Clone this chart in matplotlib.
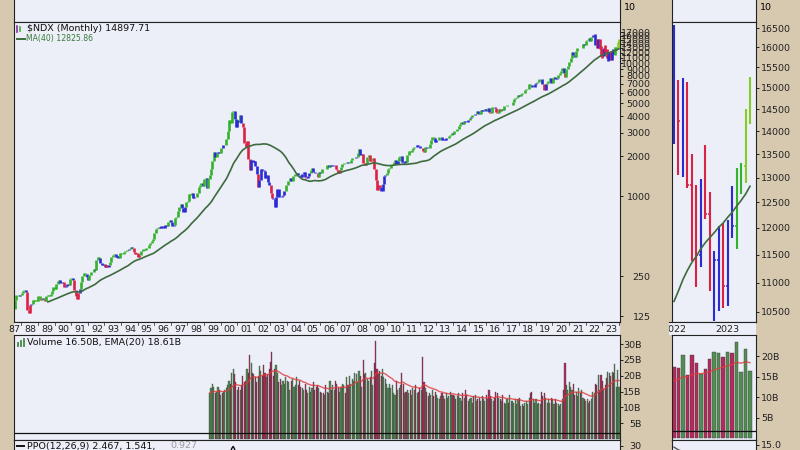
import numpy as np
import pandas as pd
import matplotlib
matplotlib.use("Agg")
import matplotlib.pyplot as plt
from matplotlib.lines import Line2D
from matplotlib.ticker import NullLocator

# $NDX monthly closes, Oct 1985 .. Jun 2023
closes = [
    118, 127, 132,
    134, 144, 150, 153, 158, 160, 143, 148, 136, 143, 143, 141,  # 1986
    165, 180, 180, 178, 180, 187, 192, 196, 190, 138, 132, 150,  # 1987
    155, 165, 163, 165, 163, 178, 172, 165, 170, 168, 162, 177,  # 1988
    180, 178, 182, 192, 205, 200, 218, 228, 232, 222, 225, 224,  # 1989
    206, 210, 218, 214, 238, 242, 232, 195, 178, 168, 185, 200,  # 1990
    225, 250, 262, 258, 245, 235, 255, 268, 270, 282, 278, 331,  # 1991
    345, 340, 315, 305, 310, 290, 300, 290, 300, 320, 350, 360,  # 1992
    365, 345, 355, 340, 370, 368, 365, 380, 385, 395, 390, 398,  # 1993
    410, 405, 378, 368, 372, 350, 362, 388, 385, 400, 392, 404,  # 1994
    405, 425, 440, 462, 478, 530, 565, 570, 580, 575, 590, 576,  # 1995
    570, 600, 590, 640, 665, 640, 590, 610, 680, 700, 765, 821,  # 1996
    875, 810, 760, 820, 900, 910, 1040, 1010, 1055, 960, 990, 990,  # 1997
    1060, 1170, 1220, 1250, 1180, 1340, 1360, 1140, 1345, 1450, 1600, 1836,  # 1998
    2130, 1950, 2100, 2150, 2120, 2300, 2280, 2400, 2410, 2700, 3100, 3708,  # 1999
    3570, 4270, 4400, 3770, 3320, 3760, 3610, 4080, 3570, 3280, 2505, 2342,  # 2000
    2590, 1910, 1570, 1855, 1800, 1830, 1680, 1470, 1170, 1330, 1600, 1577,  # 2001
    1550, 1360, 1450, 1280, 1200, 1050, 960, 950, 830, 990, 1120, 984,  # 2002
    980, 1000, 1020, 1100, 1200, 1200, 1300, 1360, 1300, 1420, 1420, 1468,  # 2003
    1490, 1450, 1440, 1390, 1470, 1520, 1400, 1370, 1410, 1480, 1580, 1621,  # 2004
    1510, 1500, 1480, 1400, 1510, 1490, 1610, 1590, 1600, 1590, 1700, 1645,  # 2005
    1720, 1680, 1700, 1700, 1590, 1575, 1490, 1560, 1660, 1745, 1760, 1757,  # 2006
    1790, 1760, 1770, 1870, 1920, 1930, 1930, 1960, 2090, 2240, 2050, 2085,  # 2007
    1760, 1720, 1780, 1950, 2030, 1840, 1870, 1920, 1600, 1330, 1110, 1212,  # 2008
    1175, 1100, 1230, 1410, 1440, 1480, 1610, 1630, 1720, 1720, 1790, 1860,  # 2009
    1740, 1820, 1950, 1990, 1810, 1760, 1840, 1790, 2040, 2170, 2150, 2218,  # 2010
    2300, 2350, 2340, 2410, 2390, 2300, 2300, 2190, 2140, 2320, 2290, 2278,  # 2011
    2460, 2640, 2760, 2730, 2530, 2620, 2640, 2800, 2800, 2660, 2680, 2661,  # 2012
    2730, 2740, 2820, 2890, 3000, 2910, 3090, 3070, 3220, 3380, 3500, 3592,  # 2013
    3500, 3690, 3600, 3590, 3740, 3850, 3900, 4080, 4050, 4150, 4340, 4236,  # 2014
    4160, 4460, 4330, 4420, 4510, 4400, 4590, 4270, 4180, 4650, 4670, 4593,  # 2015
    4280, 4200, 4480, 4340, 4520, 4420, 4730, 4770, 4880, 4800, 4810, 4864,  # 2016
    5080, 5330, 5440, 5580, 5790, 5650, 5880, 5990, 5980, 6250, 6340, 6396,  # 2017
    6950, 6900, 6580, 6610, 6970, 7040, 7230, 7630, 7630, 6970, 6950, 6330,  # 2018
    6910, 7100, 7380, 7780, 7130, 7670, 7850, 7660, 7750, 8080, 8400, 8733,  # 2019
    9150, 8460, 7810, 9000, 9560, 10160, 10900, 12110, 11420, 11050, 12270, 12888,  # 2020
    12930, 12910, 13090, 13860, 13690, 14550, 14960, 15580, 14690, 15850, 16140, 16320,  # 2021
    14930, 14240, 14840, 12850, 12640, 11500, 12950, 12270, 10970, 11400, 11950, 10940,  # 2022
    12100, 12040, 13180, 13250, 14250, 14898,  # 2023
]

# monthly volume in billions, Oct 1998 .. Jun 2023
volume = [
    14.5, 16.0, 17.5,
    16.5, 14.5, 15.0, 16.5, 15.5, 14.0, 14.5, 15.0, 15.5, 16.0, 17.0, 18.5,  # 1999
    17.5, 21.0, 22.0, 20.5, 18.0, 15.5, 16.5, 15.5, 17.0, 20.0, 18.0, 18.5,  # 2000
    22.0, 21.0, 26.5, 24.0, 21.0, 20.5, 19.5, 18.0, 20.0, 23.0, 21.5, 20.0,  # 2001
    23.5, 21.0, 19.5, 20.5, 22.0, 24.5, 27.5, 20.0, 22.0, 23.5, 21.0, 18.0,  # 2002
    19.0, 17.0, 18.5, 17.5, 19.5, 18.5, 18.0, 15.5, 18.5, 19.0, 16.5, 17.0,  # 2003
    19.5, 17.0, 18.5, 16.5, 16.0, 15.5, 17.5, 15.5, 14.5, 16.5, 15.0, 16.0,  # 2004
    18.0, 15.5, 16.5, 17.0, 16.0, 15.0, 14.5, 14.5, 14.0, 17.0, 15.0, 14.5,  # 2005
    18.5, 15.5, 17.0, 15.5, 18.5, 17.5, 16.0, 15.0, 16.5, 17.5, 17.0, 14.5,  # 2006
    19.5, 17.0, 20.0, 17.5, 19.0, 18.5, 21.0, 20.5, 18.0, 21.5, 20.0, 16.5,  # 2007
    25.0, 20.5, 21.0, 19.0, 18.5, 19.5, 21.5, 17.0, 24.0, 31.0, 22.0, 20.5,  # 2008
    21.5, 20.0, 22.0, 19.5, 19.0, 17.5, 16.0, 17.5, 16.0, 17.0, 14.5, 14.0,  # 2009
    18.5, 15.5, 16.0, 17.0, 21.0, 17.5, 14.5, 15.0, 15.5, 14.5, 15.5, 14.0,  # 2010
    16.0, 15.5, 17.0, 14.5, 15.0, 16.0, 15.5, 26.0, 18.0, 16.0, 15.0, 13.5,  # 2011
    14.5, 14.0, 15.5, 13.5, 15.0, 14.0, 13.0, 12.5, 13.5, 14.5, 13.5, 12.5,  # 2012
    14.5, 13.0, 13.5, 15.0, 14.0, 14.0, 13.5, 12.5, 13.5, 14.5, 13.0, 12.0,  # 2013
    14.5, 13.0, 15.5, 14.0, 12.0, 12.5, 13.0, 11.5, 13.5, 14.0, 12.0, 12.5,  # 2014
    13.0, 12.0, 13.5, 12.5, 12.0, 14.0, 12.5, 15.5, 13.5, 12.5, 12.0, 13.0,  # 2015
    15.0, 14.5, 13.0, 12.5, 12.0, 14.0, 11.5, 11.0, 12.5, 11.5, 14.0, 12.0,  # 2016
    12.0, 11.5, 12.5, 11.0, 12.5, 13.0, 10.5, 11.0, 10.5, 11.5, 12.0, 11.0,  # 2017
    13.0, 14.5, 15.0, 12.5, 11.5, 12.5, 11.0, 11.5, 11.0, 15.0, 13.5, 14.5,  # 2018
    13.0, 11.5, 12.5, 11.5, 13.0, 12.5, 11.0, 12.5, 11.5, 11.0, 10.5, 11.0,  # 2019
    12.5, 15.5, 24.0, 17.0, 15.5, 18.0, 16.5, 15.5, 17.5, 14.0, 15.0, 13.5,  # 2020
    16.0, 14.5, 15.5, 13.0, 12.5, 12.0, 12.5, 11.5, 12.0, 12.5, 15.0, 14.5,  # 2021
    17.5, 17.2, 20.4, 15.5, 20.4, 18.5, 15.7, 17.0, 19.4, 21.1, 20.8, 19.9,  # 2022
    21.1, 20.9, 23.6, 16.3, 21.8, 16.5,  # 2023
]

# zoom panel, Jan 2022 .. Jun 2023
zoom_high = [16570, 15190, 15240, 15140, 13510, 12850, 12970, 13700, 12700,
             11570, 12040, 12100, 12160, 12830, 13210, 13300, 14500, 15270]
zoom_low = [13720, 13050, 13010, 12790, 11380, 10930, 11270, 12180, 10860,
            10340, 10520, 10570, 10590, 11800, 11610, 12660, 12890, 14160]
zoom_state = ['b', 'r', 'b', 'r', 'r', 'r', 'b', 'r', 'r',
              'b', 'b', 'r', 'b', 'b', 'g', 'g', 'G', 'G']

main_ticks = [125, 250, 1000, 2000, 3000, 4000, 5000, 6000, 7000, 8000, 9000, 10000,
              11000, 12000, 13000, 14000, 15000, 16000, 17000]
zoom_ticks = list(range(10500, 17000, 500))
vol_ticks = [5, 10, 15, 20, 25, 30]
zvol_ticks = [5, 10, 15, 20]

TAN = '#d7c9b0'
BG = '#eceef8'
colmap = {'g': '#33b22b', 'G': '#86cc26', 'r': '#dc2244', 'b': '#2a2bd2'}
MA_COL = '#3d6b3d'
UPV = '#468546'
DNV = '#b01a4e'
FS = 6.8
NARROW = ['Liberation Sans Narrow', 'DejaVu Sans']
NFS = 6.8

s = pd.Series(closes, dtype=float)
n = len(s)
t = 1985 + (9 + np.arange(n)) / 12.0 + 1 / 24.0
ma40 = s.rolling(40).mean()
ema12 = s.ewm(span=12, adjust=False).mean()
ema26 = s.ewm(span=26, adjust=False).mean()
ema13 = s.ewm(span=13, adjust=False).mean()
macd = ema12 - ema26
hist = macd - macd.ewm(span=9, adjust=False).mean()
ppo = (ema12 - ema26) / ema26 * 100

# elder impulse colouring
de = ema13.diff().values
dh = hist.diff().values
state = np.where((de > 0) & (dh > 0), 'g', np.where((de < 0) & (dh < 0), 'r', 'b'))
state[-18:] = zoom_state

prev = s.shift(1).fillna(s.iloc[0]).values
lo = np.minimum(prev, s.values)
hi = np.maximum(prev, s.values)
lo[-18:] = zoom_low
hi[-18:] = zoom_high

v = pd.Series(volume, dtype=float)
nv = len(v)
tv = t[-nv:]
vup = s.values[-nv:] >= prev[-nv:]
vcol = [UPV if u else DNV for u in vup]
vema = v.ewm(span=20, adjust=False).mean()

W, H = 800, 450
fig = plt.figure(figsize=(8, 4.5), dpi=100, facecolor=TAN)
plt.rcParams['font.family'] = 'DejaVu Sans'


def box(x0, y0, x1, y1):
    a = fig.add_axes([x0 / W, 1 - y1 / H, (x1 - x0) / W, (y1 - y0) / H])
    a.set_facecolor(BG)
    for sp in a.spines.values():
        sp.set_color('#222222')
        sp.set_linewidth(0.8)
    a.xaxis.set_major_locator(NullLocator())
    a.yaxis.set_major_locator(NullLocator())
    return a


def pxline(x0, y0, x1, y1, c, lw):
    fig.add_artist(Line2D([x0 / W, x1 / W], [1 - y0 / H, 1 - y1 / H],
                          transform=fig.transFigure, color=c, lw=lw))


def pxtext(x, y, txt, size=FS, **kw):
    fig.text(x / W, 1 - y / H, txt, fontsize=size, va='center', **kw)


def right_axis(a, ticks, labels, pad, ha):
    a.yaxis.tick_right()
    a.yaxis.set_minor_locator(NullLocator())
    a.set_yticks(ticks)
    a.set_yticklabels(labels)
    a.tick_params(axis='y', length=2.5, width=0.7, pad=pad, labelsize=NFS, colors='#222222')
    for lab in a.get_yticklabels():
        lab.set_ha(ha)
        lab.set_family(NARROW)


# top strip (bottom of the panel above)
ax_top = box(14, -6, 620, 22)
ax_topr = box(672, -6, 756, 22)
pxtext(624, 7, "10", size=NFS, family=NARROW)
pxtext(760, 7, "10", size=NFS, family=NARROW)

# main price panel
ax = box(14, 22, 620, 322)
ax.set_yscale('log')
ax.set_xlim(1987.0, 2023.52)
ax.set_ylim(112.7, 20390)
ax.vlines(t, lo, hi, colors=[colmap[c] for c in state], lw=1.9)
ax.plot(t, ma40, color=MA_COL, lw=1.2)
right_axis(ax, main_ticks, [str(x) for x in main_ticks], 19.5, 'right')
ax.xaxis.set_major_locator(NullLocator())

# date strip
axd = box(14, 322, 620, 335)
axd.set_xlim(ax.get_xlim())
axd.set_ylim(0, 1)
for sp in ['left', 'right', 'bottom']:
    axd.spines[sp].set_visible(False)
for yr in range(1987, 2024):
    axd.text(yr, 0.45, "%02d" % (yr % 100), ha='center', va='center', fontsize=NFS,
             family=NARROW, color='#222222')
    axd.plot([yr + 0.45, yr + 0.45], [0.78, 1.0], color='#444444', lw=0.6)

# volume panel
axv = box(14, 335, 620, 440)
axv.set_xlim(ax.get_xlim())
axv.set_ylim(-0.32, 32.9)
axv.bar(tv, v, width=0.8 / 12, color=vcol, edgecolor='#3a3a3a', linewidth=0.25, alpha=0.92)
axv.plot(tv, vema, color='#e03a3a', lw=1.0, alpha=0.8)
axv.axhline(1.9, color='#111111', lw=0.9)
right_axis(axv, vol_ticks, ["%dB" % x for x in vol_ticks], 13, 'right')

# ppo panel (only its top edge is visible)
axp = box(14, 440, 620, 480)
axp.set_xlim(ax.get_xlim())
axp.set_ylim(30 - 34.5 * 0.5, 30 + 5.5 * 0.5)
axp.plot(t, ppo, color='#111111', lw=1.0)
right_axis(axp, [30], ["30"], 13, 'right')

# zoom panel
idx = np.arange(18)
zc = s.values[-18:]
zo = prev[-18:]
axr = box(672, 22, 756, 322)
axr.set_yscale('log')
axr.set_xlim(-0.45, 18.35)
axr.set_ylim(10330, 16660)
zcols = [colmap[c] for c in zoom_state]
axr.vlines(idx, zoom_low, zoom_high, colors=zcols, lw=1.5)
axr.hlines(zo, idx - 0.32, idx, colors=zcols, lw=1.2)
axr.hlines(zc, idx, idx + 0.32, colors=zcols, lw=1.2)
axr.plot(idx, ma40.values[-18:], color=MA_COL, lw=1.2)
right_axis(axr, zoom_ticks, [str(x) for x in zoom_ticks], 1.0, 'left')

axrd = box(669, 322, 756, 335)
axrd.set_xlim(-0.45 - 3 / 4.47, 18.35)
axrd.set_ylim(0, 1)
for sp in ['left', 'right', 'bottom']:
    axrd.spines[sp].set_visible(False)
axrd.text(0, 0.45, "2022", ha='center', va='center', fontsize=NFS, family=NARROW,
          color='#222222', clip_on=True)
axrd.text(12, 0.45, "2023", ha='center', va='center', fontsize=NFS, family=NARROW,
          color='#222222', clip_on=True)

axrv = box(672, 335, 756, 440)
axrv.set_xlim(-0.45, 18.35)
axrv.set_ylim(-0.37, 25.2)
axrv.bar(idx, v.values[-18:], width=0.78, color=vcol[-18:], edgecolor='#3a3a3a', linewidth=0.3, alpha=0.92)
axrv.plot(idx, vema.values[-18:], color='#e03a3a', lw=1.0, alpha=0.8)
axrv.axhline(1.8, color='#111111', lw=0.9)
right_axis(axrv, zvol_ticks, ["%dB" % x for x in zvol_ticks], 1.0, 'left')

axrp = box(672, 440, 756, 480)
axrp.set_xlim(-0.45, 18.35)
axrp.set_ylim(15.0 - 35 * 0.5, 15.0 + 5 * 0.5)
axrp.plot(idx, ppo.values[-18:], color='#555555', lw=1.0)
right_axis(axrp, [15.0], ["15.0"], 1.0, 'left')

# panel legends
pxline(17, 26, 17, 32, '#8a2bb0', 1.2)
pxline(20, 27, 20, 31, '#35b52f', 1.2)
pxtext(27, 28.5, "$NDX (Monthly) 14897.71", color='#111111')
pxline(17, 38.5, 25, 38.5, MA_COL, 1.4)
pxtext(26, 38.5, "MA(40) 12825.86", size=5.6, color='#3a7a3a')
pxline(18, 346, 18, 343, UPV, 1.3)
pxline(21, 346, 21, 341, UPV, 1.3)
pxline(24, 346, 24, 339, UPV, 1.3)
pxtext(27, 342.5, "Volume 16.50B, EMA(20) 18.61B", color='#111111')
pxline(17, 446, 24, 446, '#111111', 1.4)
pxtext(27, 446, "PPO(12,26,9) 2.467, 1.541,", color='#111111')
pxtext(170, 446, "0.927", color='#9a9a9a')

fig.savefig("out.png", dpi=100, facecolor=TAN)
